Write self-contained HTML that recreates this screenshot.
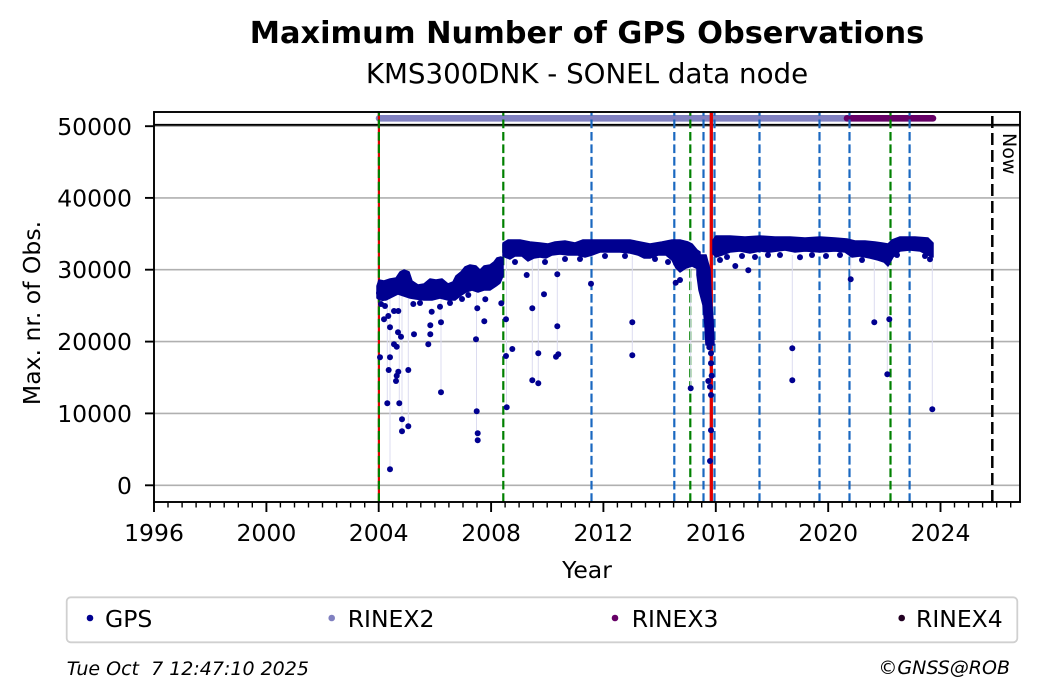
<!DOCTYPE html>
<html>
<head>
<meta charset="utf-8">
<style>
html,body{margin:0;padding:0;background:#fff;width:1040px;height:699px;overflow:hidden;}
svg{display:block;}
text{font-family:"DejaVu Sans","Liberation Sans",sans-serif;fill:#000;}
</style>
</head>
<body>
<svg width="1040" height="699" viewBox="0 0 1040 699" xmlns="http://www.w3.org/2000/svg">
<rect x="0" y="0" width="1040" height="699" fill="#fff"/>

<!-- Titles -->
<text x="587" y="43" text-anchor="middle" font-size="30.4" font-weight="bold">Maximum Number of GPS Observations</text>
<text x="587" y="83" text-anchor="middle" font-size="27.7">KMS300DNK - SONEL data node</text>

<!-- gridlines -->
<g stroke="#b0b0b0" stroke-width="1.6">
<line x1="154" y1="485.3" x2="1020" y2="485.3"/>
<line x1="154" y1="413.4" x2="1020" y2="413.4"/>
<line x1="154" y1="341.6" x2="1020" y2="341.6"/>
<line x1="154" y1="269.7" x2="1020" y2="269.7"/>
<line x1="154" y1="197.9" x2="1020" y2="197.9"/>
<line x1="154" y1="126.2" x2="1020" y2="126.2"/>
</g>
<line x1="154" y1="124.8" x2="1020" y2="124.8" stroke="#000" stroke-width="1.8"/>

<!-- RINEX bars -->
<line x1="379" y1="118.3" x2="847" y2="118.3" stroke="#8080c0" stroke-width="6.6" stroke-linecap="round"/>
<line x1="847" y1="118.3" x2="933" y2="118.3" stroke="#660066" stroke-width="6.6" stroke-linecap="round"/>

<!-- vertical event lines -->
<line x1="378.9" y1="502" x2="378.9" y2="112" stroke="#e00000" stroke-width="2.2"/>
<g stroke-width="2.2" stroke-dasharray="8.7 3.76">
<line x1="378.9" y1="502" x2="378.9" y2="112" stroke="#008000"/>
<line x1="503.3" y1="502" x2="503.3" y2="112" stroke="#008000"/>
<line x1="591.5" y1="502" x2="591.5" y2="112" stroke="#1a68c0"/>
<line x1="674.3" y1="502" x2="674.3" y2="112" stroke="#1a68c0"/>
<line x1="690.3" y1="502" x2="690.3" y2="112" stroke="#008000"/>
<line x1="703.5" y1="502" x2="703.5" y2="112" stroke="#1a68c0"/>
<line x1="714.5" y1="502" x2="714.5" y2="112" stroke="#1a68c0"/>
<line x1="759.5" y1="502" x2="759.5" y2="112" stroke="#1a68c0"/>
<line x1="819.5" y1="502" x2="819.5" y2="112" stroke="#1a68c0"/>
<line x1="849.5" y1="502" x2="849.5" y2="112" stroke="#1a68c0"/>
<line x1="890.5" y1="502" x2="890.5" y2="112" stroke="#008000"/>
<line x1="909.6" y1="502" x2="909.6" y2="112" stroke="#1a68c0"/>
</g>
<line x1="711.3" y1="502" x2="711.3" y2="112" stroke="#e00000" stroke-width="3.3"/>
<line x1="992.3" y1="502" x2="992.3" y2="112" stroke="#000" stroke-width="2.5" stroke-dasharray="12 5"/>
<text transform="translate(1003,133) rotate(90)" font-size="19">Now</text>

<!-- faint connecting lines -->
<g stroke="#dcdcf0" stroke-width="1">
<line x1="387.3" y1="295" x2="387.3" y2="403"/>
<line x1="390" y1="295" x2="390" y2="469"/>
<line x1="399.3" y1="295" x2="399.3" y2="403"/>
<line x1="402" y1="295" x2="402" y2="431"/>
<line x1="408.3" y1="295" x2="408.3" y2="426"/>
<line x1="441" y1="295" x2="441" y2="392"/>
<line x1="476.5" y1="290" x2="476.5" y2="440"/>
<line x1="506.5" y1="258" x2="506.5" y2="407"/>
<line x1="532.3" y1="258" x2="532.3" y2="380"/>
<line x1="538.3" y1="258" x2="538.3" y2="383"/>
<line x1="557.3" y1="258" x2="557.3" y2="356"/>
<line x1="632.3" y1="256" x2="632.3" y2="355"/>
<line x1="690.7" y1="265" x2="690.7" y2="388"/>
<line x1="792.3" y1="255" x2="792.3" y2="380"/>
<line x1="874.3" y1="262" x2="874.3" y2="322"/>
<line x1="887.3" y1="265" x2="887.3" y2="374"/>
<line x1="932.3" y1="258" x2="932.3" y2="409"/>
<line x1="850.7" y1="258" x2="850.7" y2="279"/>
</g>

<!-- GPS band -->
<g fill="#000090" stroke="#000090" stroke-width="1.5" stroke-linejoin="round">
<polygon points="377,286 379,280 384,281 390,279 396,278 400,272 404,270 409,272 412,281 418,285 424,284 430,279 436,280 442,279 448,284 453,282 456,276 461,272 465,267 470,265 476,266 480,270 484,266 490,265 494,262 497,258 501,257 503,258 503,276 500,283 496,286 490,290 484,290 478,292 472,290 466,292 460,296 455,300 448,300 440,298 432,300 424,300 416,299 410,298 404,296 398,294 392,297 386,300 380,300 377,298"/>
<polygon points="503,243 508,240 520,240 530,242 540,243 548,244 555,242 565,241 575,243 583,240 600,240 615,240 630,240 640,242 650,244 662,242 672,240 680,240 688,242 692,244 697,250 700,252 700,270 692,266 686,268 680,272 676,268 672,260 666,255 658,255 650,258 644,258 638,255 630,253 620,252 610,252 600,252 592,255 585,257 578,255 568,255 560,254 552,255 546,258 540,257 534,258 528,261 522,256 515,256 510,259 505,257 503,256"/>
<polygon points="697,255 706,255 710,270 711,295 713,320 714,345 706,345 705,325 703,305 699,290 697,275"/>
<polygon points="713,240 716,236 730,236 745,237 760,236 775,237 790,237 805,238 820,237 835,238 847,239 855,241 865,241 875,242 882,243 888,244 892,240 900,237 915,237 928,238 933,243 933,257 928,255 920,251 910,250 900,251 893,257 888,266 884,262 878,260 870,258 860,256 852,257 845,252 835,251 820,252 805,251 795,252 785,250 770,252 760,251 750,253 740,251 730,252 722,255 716,257 713,254"/>
</g>

<!-- GPS outlier dots -->
<g fill="#000090">
<circle cx="379" cy="293" r="3"/><circle cx="381" cy="304" r="3"/><circle cx="385" cy="306" r="3"/><circle cx="383" cy="298" r="3"/>
<circle cx="420" cy="303" r="3"/><circle cx="450" cy="303" r="3"/><circle cx="462" cy="299" r="3"/>
<circle cx="515" cy="262" r="3"/><circle cx="545" cy="262" r="3"/><circle cx="565" cy="259" r="3"/><circle cx="580" cy="259" r="3"/>
<circle cx="605" cy="256" r="3"/><circle cx="625" cy="256" r="3"/><circle cx="655" cy="259" r="3"/><circle cx="668" cy="262" r="3"/>
<circle cx="720" cy="260" r="3"/><circle cx="727" cy="257" r="3"/><circle cx="742" cy="256" r="3"/><circle cx="755" cy="257" r="3"/>
<circle cx="768" cy="255" r="3"/><circle cx="780" cy="255" r="3"/><circle cx="812" cy="255" r="3"/><circle cx="826" cy="256" r="3"/>
<circle cx="840" cy="255" r="3"/><circle cx="862" cy="260" r="3"/><circle cx="897" cy="255" r="3"/><circle cx="925" cy="256" r="3"/>
<circle cx="384" cy="319.3" r="3"/><circle cx="388.3" cy="316" r="3"/><circle cx="390" cy="327.3" r="3"/>
<circle cx="394" cy="311" r="3"/><circle cx="398.3" cy="311" r="3"/><circle cx="398" cy="332.3" r="3"/>
<circle cx="401" cy="336.7" r="3"/><circle cx="394" cy="344.3" r="3"/><circle cx="396.7" cy="346.7" r="3"/>
<circle cx="380" cy="357.3" r="3"/><circle cx="390" cy="357.3" r="3"/><circle cx="388.7" cy="370" r="3"/>
<circle cx="396.7" cy="375.7" r="3"/><circle cx="398.3" cy="371.7" r="3"/><circle cx="396" cy="381" r="3"/>
<circle cx="408.3" cy="370" r="3"/><circle cx="387.3" cy="403.3" r="3"/><circle cx="399.3" cy="403.3" r="3"/>
<circle cx="402" cy="419.3" r="3"/><circle cx="402" cy="431.3" r="3"/><circle cx="408.3" cy="426.3" r="3"/>
<circle cx="390" cy="469.3" r="3"/><circle cx="413.3" cy="304" r="3"/><circle cx="414" cy="334.3" r="3"/>
<circle cx="428.3" cy="344.3" r="3"/><circle cx="430.3" cy="334.3" r="3"/><circle cx="430.3" cy="325.3" r="3"/>
<circle cx="431.7" cy="311.7" r="3"/><circle cx="440" cy="306.7" r="3"/><circle cx="441" cy="322.3" r="3"/>
<circle cx="441" cy="392.3" r="3"/><circle cx="468.3" cy="295" r="3"/><circle cx="477.3" cy="308.3" r="3"/>
<circle cx="476" cy="339.3" r="3"/><circle cx="476.7" cy="411.3" r="3"/><circle cx="477.7" cy="433.3" r="3"/>
<circle cx="477.7" cy="440.3" r="3"/><circle cx="484.3" cy="321.3" r="3"/><circle cx="485.3" cy="299.3" r="3"/>
<circle cx="501.3" cy="303.3" r="3"/>
<circle cx="506" cy="319.3" r="3"/><circle cx="506" cy="356" r="3"/><circle cx="506.7" cy="407.3" r="3"/>
<circle cx="512.3" cy="349" r="3"/><circle cx="526.7" cy="275" r="3"/><circle cx="532.3" cy="308.3" r="3"/>
<circle cx="532.3" cy="380.3" r="3"/><circle cx="538.3" cy="353.3" r="3"/><circle cx="538.3" cy="383.3" r="3"/>
<circle cx="544" cy="294.3" r="3"/><circle cx="557.3" cy="274.3" r="3"/><circle cx="557.3" cy="326.3" r="3"/>
<circle cx="556" cy="356.7" r="3"/><circle cx="558.3" cy="354.3" r="3"/><circle cx="591" cy="283.7" r="3"/>
<circle cx="632.3" cy="322.3" r="3"/><circle cx="632.3" cy="355.3" r="3"/><circle cx="675.7" cy="282.7" r="3"/>
<circle cx="680" cy="280" r="3"/><circle cx="690.7" cy="388.3" r="3"/>
<circle cx="708.3" cy="381" r="3"/><circle cx="710" cy="386.7" r="3"/><circle cx="711" cy="395" r="3"/>
<circle cx="711" cy="430.3" r="3"/><circle cx="710" cy="461" r="3"/><circle cx="711.7" cy="375.7" r="3"/>
<circle cx="711" cy="363.3" r="3"/><circle cx="711" cy="353.3" r="3"/><circle cx="709.3" cy="347.3" r="3"/>
<circle cx="735.3" cy="266" r="3"/><circle cx="748.3" cy="270.3" r="3"/><circle cx="792.3" cy="348.3" r="3"/>
<circle cx="792.3" cy="380.3" r="3"/><circle cx="800" cy="257.3" r="3"/><circle cx="850.7" cy="279.3" r="3"/>
<circle cx="874.3" cy="322.3" r="3"/><circle cx="889.3" cy="319.3" r="3"/><circle cx="887.3" cy="374.3" r="3"/>
<circle cx="932.3" cy="409.3" r="3"/><circle cx="930" cy="259.3" r="3"/>
</g>

<!-- axes spines -->
<rect x="154" y="112" width="866" height="390" fill="none" stroke="#000" stroke-width="1.9"/>

<!-- y ticks -->
<g stroke="#000" stroke-width="1.9">
<line x1="145" y1="485.3" x2="154" y2="485.3"/>
<line x1="145" y1="413.4" x2="154" y2="413.4"/>
<line x1="145" y1="341.6" x2="154" y2="341.6"/>
<line x1="145" y1="269.7" x2="154" y2="269.7"/>
<line x1="145" y1="197.9" x2="154" y2="197.9"/>
<line x1="145" y1="126.2" x2="154" y2="126.2"/>
</g>
<g font-size="23.5" text-anchor="end">
<text x="132" y="494">0</text>
<text x="132" y="422">10000</text>
<text x="132" y="350">20000</text>
<text x="132" y="278">30000</text>
<text x="132" y="206.5">40000</text>
<text x="132" y="135">50000</text>
</g>

<!-- x ticks -->
<g stroke="#000" stroke-width="1.9">
<line x1="154" y1="502" x2="154" y2="512"/>
<line x1="266.4" y1="502" x2="266.4" y2="512"/>
<line x1="378.7" y1="502" x2="378.7" y2="512"/>
<line x1="491.1" y1="502" x2="491.1" y2="512"/>
<line x1="603.4" y1="502" x2="603.4" y2="512"/>
<line x1="715.8" y1="502" x2="715.8" y2="512"/>
<line x1="828.2" y1="502" x2="828.2" y2="512"/>
<line x1="940.5" y1="502" x2="940.5" y2="512"/>
</g>
<g stroke="#000" stroke-width="1.4">
<line x1="168.0" y1="502" x2="168.0" y2="507.5"/><line x1="182.1" y1="502" x2="182.1" y2="507.5"/><line x1="196.1" y1="502" x2="196.1" y2="507.5"/><line x1="210.2" y1="502" x2="210.2" y2="507.5"/><line x1="224.2" y1="502" x2="224.2" y2="507.5"/><line x1="238.3" y1="502" x2="238.3" y2="507.5"/><line x1="252.3" y1="502" x2="252.3" y2="507.5"/>
<line x1="280.4" y1="502" x2="280.4" y2="507.5"/><line x1="294.5" y1="502" x2="294.5" y2="507.5"/><line x1="308.5" y1="502" x2="308.5" y2="507.5"/><line x1="322.5" y1="502" x2="322.5" y2="507.5"/><line x1="336.6" y1="502" x2="336.6" y2="507.5"/><line x1="350.6" y1="502" x2="350.6" y2="507.5"/><line x1="364.7" y1="502" x2="364.7" y2="507.5"/>
<line x1="392.7" y1="502" x2="392.7" y2="507.5"/><line x1="406.8" y1="502" x2="406.8" y2="507.5"/><line x1="420.8" y1="502" x2="420.8" y2="507.5"/><line x1="434.9" y1="502" x2="434.9" y2="507.5"/><line x1="448.9" y1="502" x2="448.9" y2="507.5"/><line x1="463.0" y1="502" x2="463.0" y2="507.5"/><line x1="477.0" y1="502" x2="477.0" y2="507.5"/>
<line x1="505.1" y1="502" x2="505.1" y2="507.5"/><line x1="519.1" y1="502" x2="519.1" y2="507.5"/><line x1="533.2" y1="502" x2="533.2" y2="507.5"/><line x1="547.2" y1="502" x2="547.2" y2="507.5"/><line x1="561.3" y1="502" x2="561.3" y2="507.5"/><line x1="575.3" y1="502" x2="575.3" y2="507.5"/><line x1="589.4" y1="502" x2="589.4" y2="507.5"/>
<line x1="617.4" y1="502" x2="617.4" y2="507.5"/><line x1="631.5" y1="502" x2="631.5" y2="507.5"/><line x1="645.5" y1="502" x2="645.5" y2="507.5"/><line x1="659.6" y1="502" x2="659.6" y2="507.5"/><line x1="673.6" y1="502" x2="673.6" y2="507.5"/><line x1="687.7" y1="502" x2="687.7" y2="507.5"/><line x1="701.7" y1="502" x2="701.7" y2="507.5"/>
<line x1="729.8" y1="502" x2="729.8" y2="507.5"/><line x1="743.9" y1="502" x2="743.9" y2="507.5"/><line x1="757.9" y1="502" x2="757.9" y2="507.5"/><line x1="772.0" y1="502" x2="772.0" y2="507.5"/><line x1="786.0" y1="502" x2="786.0" y2="507.5"/><line x1="800.1" y1="502" x2="800.1" y2="507.5"/><line x1="814.1" y1="502" x2="814.1" y2="507.5"/>
<line x1="842.2" y1="502" x2="842.2" y2="507.5"/><line x1="856.2" y1="502" x2="856.2" y2="507.5"/><line x1="870.3" y1="502" x2="870.3" y2="507.5"/><line x1="884.3" y1="502" x2="884.3" y2="507.5"/><line x1="898.4" y1="502" x2="898.4" y2="507.5"/><line x1="912.4" y1="502" x2="912.4" y2="507.5"/><line x1="926.5" y1="502" x2="926.5" y2="507.5"/>
<line x1="954.5" y1="502" x2="954.5" y2="507.5"/><line x1="968.6" y1="502" x2="968.6" y2="507.5"/><line x1="982.6" y1="502" x2="982.6" y2="507.5"/><line x1="996.7" y1="502" x2="996.7" y2="507.5"/><line x1="1010.7" y1="502" x2="1010.7" y2="507.5"/>
</g>
<g font-size="23.5" text-anchor="middle">
<text x="154" y="541">1996</text>
<text x="266.4" y="541">2000</text>
<text x="378.7" y="541">2004</text>
<text x="491.1" y="541">2008</text>
<text x="603.4" y="541">2012</text>
<text x="715.8" y="541">2016</text>
<text x="828.2" y="541">2020</text>
<text x="940.5" y="541">2024</text>
</g>

<!-- axis labels -->
<text x="587" y="578" text-anchor="middle" font-size="23.5">Year</text>
<text transform="translate(40,313) rotate(-90)" text-anchor="middle" font-size="23.5">Max. nr. of Obs.</text>

<!-- legend -->
<rect x="66.7" y="597.3" width="950.6" height="45" rx="4" ry="4" fill="#fff" stroke="#d0d0d0" stroke-width="1.8"/>
<circle cx="90" cy="618" r="3.3" fill="#000090"/>
<text x="105" y="627" font-size="23.5">GPS</text>
<circle cx="331.7" cy="618" r="3.3" fill="#8080c0"/>
<text x="347.7" y="627" font-size="23.5">RINEX2</text>
<circle cx="615" cy="618" r="3.3" fill="#660066"/>
<text x="631.7" y="627" font-size="23.5">RINEX3</text>
<circle cx="901.7" cy="618" r="3.3" fill="#220022"/>
<text x="916" y="627" font-size="23.5">RINEX4</text>

<!-- footer -->
<text x="66.7" y="675" font-size="19" font-style="italic" xml:space="preserve" style="white-space:pre">Tue Oct  7 12:47:10 2025</text>
<text x="1010" y="674" font-size="19" font-style="italic" text-anchor="end">©GNSS@ROB</text>
</svg>
</body>
</html>
